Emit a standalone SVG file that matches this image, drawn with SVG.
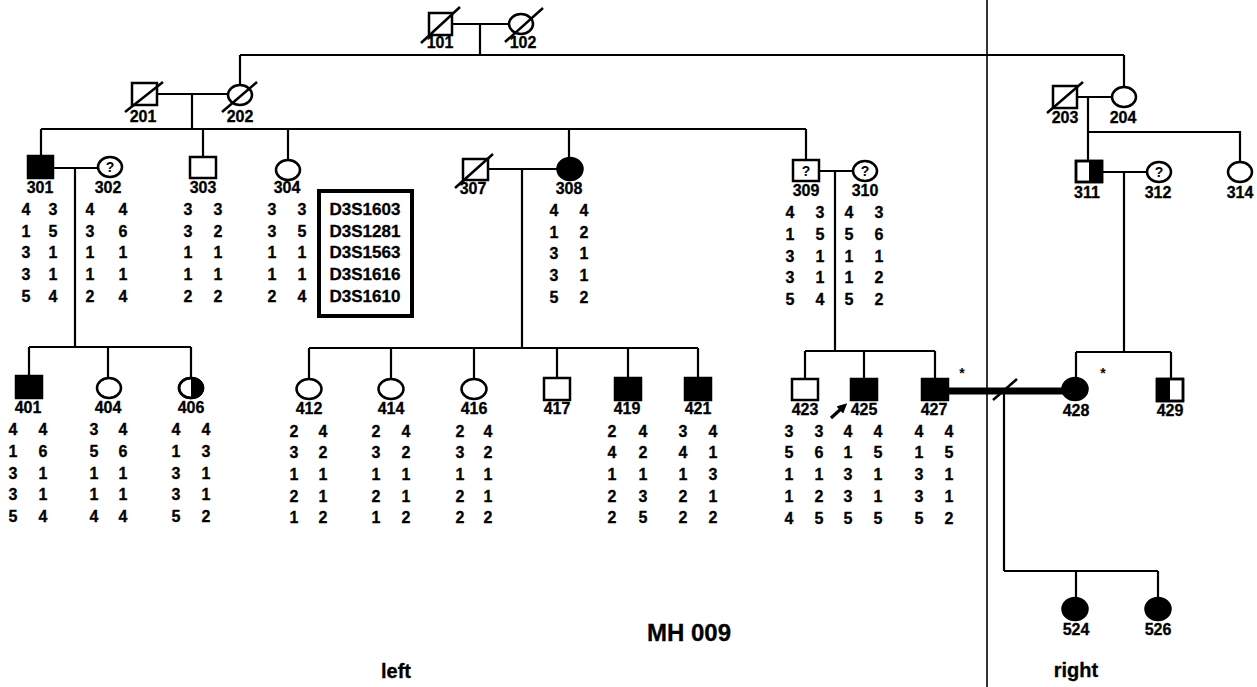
<svg xmlns="http://www.w3.org/2000/svg" width="1257" height="687" viewBox="0 0 1257 687">
<style>
.ln{stroke:#000;stroke-width:2.2;fill:none}
.sym{stroke:#000;stroke-width:2.5;fill:#fff}
.aff{stroke:#000;stroke-width:2.5;fill:#000}
.dx{stroke:#000;stroke-width:2.5}
text{font-family:"Liberation Sans",Arial,sans-serif;font-weight:bold;fill:#000;stroke:#000;stroke-width:0.3}
.lb{font-size:16px;text-anchor:middle}
.al{font-size:16px;text-anchor:middle}
.q{font-size:14px;text-anchor:middle;stroke-width:0}
</style>
<defs>
<marker id="ah" markerWidth="10" markerHeight="10" refX="3" refY="5" orient="auto" markerUnits="userSpaceOnUse" viewBox="0 0 10 10"><path d="M0,0 L10,5 L0,10 Z" fill="#000"/></marker>
</defs>
<rect width="1257" height="687" fill="#fff"/>

<g id="connectors">
<path class="ln" d="M452,24 H509 M480,24 V55 M240,55 H1124 M240,55 V85 M1124,55 V87"/>
<path class="ln" d="M157,94 H228 M192,94 V129 M41,129 H806 M41,129 V156 M203,129 V157 M288,129 V160 M569,129 V158 M806,129 V160"/>
<path class="ln" d="M53,168 H98 M75,168 V347 M29,347 H191 M29,347 V376 M108,347 V378 M191,347 V378"/>
<path class="ln" d="M488,169 H558 M522,169 V348 M309,348 H698 M309,348 V379 M391,348 V379 M474,348 V379 M557,348 V378 M628,348 V378 M698,348 V378"/>
<path class="ln" d="M818,171 H853 M835,171 V351 M805,351 H935 M805,351 V379 M864,351 V379 M935,351 V379"/>
<path class="ln" d="M1077,97 H1112 M1088,97 V161 M1088,132 H1240 V162 M1102,172 H1147 M1124,172 V352 M1076,352 H1171 M1076,352 V378 M1171,352 V379"/>
<path d="M948,391 H1063" stroke="#000" stroke-width="7" fill="none"/>
<path class="dx" d="M993,400 L1017,379"/>
<path class="ln" d="M1004,391 V571 M1004,571 H1158 M1076,571 V598 M1158,571 V598"/>
<path d="M831,418 L842,408" stroke="#000" stroke-width="3.2" fill="none" marker-end="url(#ah)"/>
<path d="M987,0 V687" stroke="#000" stroke-width="1.6"/>
</g>

<g id="n101"><rect class="sym" x="429" y="13" width="23" height="22"/><path class="dx" d="M421,43 L460,7"/><text class="lb" x="440" y="48">101</text></g>
<g id="n102"><ellipse class="sym" cx="521" cy="24" rx="12" ry="10"/><path class="dx" d="M505,42 L543,8"/><text class="lb" x="523" y="48">102</text></g>

<g id="n201"><rect class="sym" x="132" y="83" width="25" height="22"/><path class="dx" d="M125,112 L163,82"/><text class="lb" x="143" y="122">201</text></g>
<g id="n202"><ellipse class="sym" cx="240" cy="95" rx="12" ry="10"/><path class="dx" d="M222,112 L257,82"/><text class="lb" x="240" y="122">202</text></g>
<g id="n203"><rect class="sym" x="1053" y="86" width="24" height="22"/><path class="dx" d="M1047,113 L1083,82"/><text class="lb" x="1065" y="123">203</text></g>
<g id="n204"><ellipse class="sym" cx="1124" cy="97" rx="12" ry="10"/><text class="lb" x="1123" y="123">204</text></g>

<g id="n301"><rect class="aff" x="28" y="156" width="25" height="22"/><text class="lb" x="40" y="193">301</text>
<text class="al"><tspan x="26" y="215">4</tspan><tspan x="26" y="237">1</tspan><tspan x="26" y="258">3</tspan><tspan x="26" y="280">3</tspan><tspan x="26" y="302">5</tspan></text>
<text class="al"><tspan x="53" y="215">3</tspan><tspan x="53" y="237">5</tspan><tspan x="53" y="258">1</tspan><tspan x="53" y="280">1</tspan><tspan x="53" y="302">4</tspan></text></g>
<g id="n302"><ellipse class="sym" cx="110" cy="167" rx="12" ry="10"/><text class="q" x="110" y="172">?</text><text class="lb" x="108" y="193">302</text>
<text class="al"><tspan x="90" y="215">4</tspan><tspan x="90" y="237">3</tspan><tspan x="90" y="258">1</tspan><tspan x="90" y="280">1</tspan><tspan x="90" y="302">2</tspan></text>
<text class="al"><tspan x="123" y="215">4</tspan><tspan x="123" y="237">6</tspan><tspan x="123" y="258">1</tspan><tspan x="123" y="280">1</tspan><tspan x="123" y="302">4</tspan></text></g>
<g id="n303"><rect class="sym" x="190" y="157" width="26" height="21"/><text class="lb" x="203" y="193">303</text>
<text class="al"><tspan x="188" y="215">3</tspan><tspan x="188" y="237">3</tspan><tspan x="188" y="258">1</tspan><tspan x="188" y="280">1</tspan><tspan x="188" y="302">2</tspan></text>
<text class="al"><tspan x="218" y="215">3</tspan><tspan x="218" y="237">2</tspan><tspan x="218" y="258">1</tspan><tspan x="218" y="280">1</tspan><tspan x="218" y="302">2</tspan></text></g>
<g id="n304"><ellipse class="sym" cx="288" cy="170" rx="12" ry="10"/><text class="lb" x="287" y="193">304</text>
<text class="al"><tspan x="272" y="215">3</tspan><tspan x="272" y="237">3</tspan><tspan x="272" y="258">1</tspan><tspan x="272" y="280">1</tspan><tspan x="272" y="302">2</tspan></text>
<text class="al"><tspan x="302" y="215">3</tspan><tspan x="302" y="237">5</tspan><tspan x="302" y="258">1</tspan><tspan x="302" y="280">1</tspan><tspan x="302" y="302">4</tspan></text></g>

<g id="legend"><rect x="319" y="191" width="93" height="125" fill="none" stroke="#000" stroke-width="4"/>
<text class="al" style="font-size:17px"><tspan x="365" y="215">D3S1603</tspan><tspan x="365" y="237">D3S1281</tspan><tspan x="365" y="258">D3S1563</tspan><tspan x="365" y="280">D3S1616</tspan><tspan x="365" y="302">D3S1610</tspan></text></g>

<g id="n307"><rect class="sym" x="463" y="159" width="25" height="21"/><path class="dx" d="M455,188 L493,154"/><text class="lb" x="473" y="194">307</text></g>
<g id="n308"><ellipse class="aff" cx="570" cy="169" rx="12.5" ry="11"/><text class="lb" x="569" y="194">308</text>
<text class="al"><tspan x="554" y="216">4</tspan><tspan x="554" y="238">1</tspan><tspan x="554" y="259">3</tspan><tspan x="554" y="281">3</tspan><tspan x="554" y="303">5</tspan></text>
<text class="al"><tspan x="584" y="216">4</tspan><tspan x="584" y="238">2</tspan><tspan x="584" y="259">1</tspan><tspan x="584" y="281">1</tspan><tspan x="584" y="303">2</tspan></text></g>

<g id="n309"><rect class="sym" x="793" y="160" width="26" height="21"/><text class="q" x="806" y="176">?</text><text class="lb" x="806" y="196">309</text>
<text class="al"><tspan x="790" y="218">4</tspan><tspan x="790" y="240">1</tspan><tspan x="790" y="262">3</tspan><tspan x="790" y="283">3</tspan><tspan x="790" y="305">5</tspan></text>
<text class="al"><tspan x="820" y="218">3</tspan><tspan x="820" y="240">5</tspan><tspan x="820" y="262">1</tspan><tspan x="820" y="283">1</tspan><tspan x="820" y="305">4</tspan></text></g>
<g id="n310"><ellipse class="sym" cx="865" cy="171" rx="12" ry="10"/><text class="q" x="865" y="176">?</text><text class="lb" x="865" y="196">310</text>
<text class="al"><tspan x="849" y="218">4</tspan><tspan x="849" y="240">5</tspan><tspan x="849" y="262">1</tspan><tspan x="849" y="283">1</tspan><tspan x="849" y="305">5</tspan></text>
<text class="al"><tspan x="879" y="218">3</tspan><tspan x="879" y="240">6</tspan><tspan x="879" y="262">1</tspan><tspan x="879" y="283">2</tspan><tspan x="879" y="305">2</tspan></text></g>

<g id="n311"><rect class="sym" x="1076" y="161" width="26" height="21"/><rect x="1089" y="161" width="13" height="21" fill="#000"/><rect x="1076" y="161" width="26" height="21" fill="none" stroke="#000" stroke-width="2.5"/><text class="lb" x="1087" y="198">311</text></g>
<g id="n312"><ellipse class="sym" cx="1159" cy="172" rx="12" ry="10"/><text class="q" x="1159" y="177">?</text><text class="lb" x="1158" y="198">312</text></g>
<g id="n314"><ellipse class="sym" cx="1240" cy="172" rx="12" ry="10"/><text class="lb" x="1240" y="198">314</text></g>

<g id="n401"><rect class="aff" x="16" y="376" width="26" height="22"/><text class="lb" x="28" y="413">401</text>
<text class="al"><tspan x="13" y="435">4</tspan><tspan x="13" y="457">1</tspan><tspan x="13" y="479">3</tspan><tspan x="13" y="500">3</tspan><tspan x="13" y="522">5</tspan></text>
<text class="al"><tspan x="43" y="435">4</tspan><tspan x="43" y="457">6</tspan><tspan x="43" y="479">1</tspan><tspan x="43" y="500">1</tspan><tspan x="43" y="522">4</tspan></text></g>
<g id="n404"><ellipse class="sym" cx="109" cy="388" rx="12" ry="10"/><text class="lb" x="108" y="413">404</text>
<text class="al"><tspan x="94" y="435">3</tspan><tspan x="94" y="457">5</tspan><tspan x="94" y="479">1</tspan><tspan x="94" y="500">1</tspan><tspan x="94" y="522">4</tspan></text>
<text class="al"><tspan x="123" y="435">4</tspan><tspan x="123" y="457">6</tspan><tspan x="123" y="479">1</tspan><tspan x="123" y="500">1</tspan><tspan x="123" y="522">4</tspan></text></g>
<g id="n406"><ellipse class="sym" cx="191" cy="388" rx="12" ry="10"/><path d="M191,378 A12,10 0 0,1 191,398 Z" fill="#000"/><ellipse cx="191" cy="388" rx="12" ry="10" fill="none" stroke="#000" stroke-width="2.5"/><text class="lb" x="191" y="413">406</text>
<text class="al"><tspan x="176" y="435">4</tspan><tspan x="176" y="457">1</tspan><tspan x="176" y="479">3</tspan><tspan x="176" y="500">3</tspan><tspan x="176" y="522">5</tspan></text>
<text class="al"><tspan x="206" y="435">4</tspan><tspan x="206" y="457">3</tspan><tspan x="206" y="479">1</tspan><tspan x="206" y="500">1</tspan><tspan x="206" y="522">2</tspan></text></g>

<g id="n412"><ellipse class="sym" cx="309" cy="389" rx="12.5" ry="10"/><text class="lb" x="309" y="414">412</text>
<text class="al"><tspan x="294" y="437">2</tspan><tspan x="294" y="458">3</tspan><tspan x="294" y="480">1</tspan><tspan x="294" y="502">2</tspan><tspan x="294" y="523">1</tspan></text>
<text class="al"><tspan x="323" y="437">4</tspan><tspan x="323" y="458">2</tspan><tspan x="323" y="480">1</tspan><tspan x="323" y="502">1</tspan><tspan x="323" y="523">2</tspan></text></g>
<g id="n414"><ellipse class="sym" cx="391" cy="389" rx="12.5" ry="10"/><text class="lb" x="391" y="414">414</text>
<text class="al"><tspan x="376" y="437">2</tspan><tspan x="376" y="458">3</tspan><tspan x="376" y="480">1</tspan><tspan x="376" y="502">2</tspan><tspan x="376" y="523">1</tspan></text>
<text class="al"><tspan x="406" y="437">4</tspan><tspan x="406" y="458">2</tspan><tspan x="406" y="480">1</tspan><tspan x="406" y="502">1</tspan><tspan x="406" y="523">2</tspan></text></g>
<g id="n416"><ellipse class="sym" cx="474" cy="389" rx="12.5" ry="10"/><text class="lb" x="474" y="414">416</text>
<text class="al"><tspan x="460" y="437">2</tspan><tspan x="460" y="458">3</tspan><tspan x="460" y="480">1</tspan><tspan x="460" y="502">2</tspan><tspan x="460" y="523">2</tspan></text>
<text class="al"><tspan x="488" y="437">4</tspan><tspan x="488" y="458">2</tspan><tspan x="488" y="480">1</tspan><tspan x="488" y="502">1</tspan><tspan x="488" y="523">2</tspan></text></g>
<g id="n417"><rect class="sym" x="544" y="378" width="26" height="22"/><text class="lb" x="557" y="414">417</text></g>
<g id="n419"><rect class="aff" x="615" y="378" width="26" height="22"/><text class="lb" x="627" y="414">419</text>
<text class="al"><tspan x="612" y="437">2</tspan><tspan x="612" y="458">4</tspan><tspan x="612" y="480">1</tspan><tspan x="612" y="502">2</tspan><tspan x="612" y="523">2</tspan></text>
<text class="al"><tspan x="643" y="437">4</tspan><tspan x="643" y="458">2</tspan><tspan x="643" y="480">1</tspan><tspan x="643" y="502">3</tspan><tspan x="643" y="523">5</tspan></text></g>
<g id="n421"><rect class="aff" x="685" y="378" width="26" height="22"/><text class="lb" x="698" y="414">421</text>
<text class="al"><tspan x="683" y="437">3</tspan><tspan x="683" y="458">4</tspan><tspan x="683" y="480">1</tspan><tspan x="683" y="502">2</tspan><tspan x="683" y="523">2</tspan></text>
<text class="al"><tspan x="713" y="437">4</tspan><tspan x="713" y="458">1</tspan><tspan x="713" y="480">3</tspan><tspan x="713" y="502">1</tspan><tspan x="713" y="523">2</tspan></text></g>

<g id="n423"><rect class="sym" x="792" y="379" width="26" height="21"/><text class="lb" x="805" y="415">423</text>
<text class="al"><tspan x="789" y="437">3</tspan><tspan x="789" y="458">5</tspan><tspan x="789" y="480">1</tspan><tspan x="789" y="502">1</tspan><tspan x="789" y="524">4</tspan></text>
<text class="al"><tspan x="819" y="437">3</tspan><tspan x="819" y="458">6</tspan><tspan x="819" y="480">1</tspan><tspan x="819" y="502">2</tspan><tspan x="819" y="524">5</tspan></text></g>
<g id="n425"><rect class="aff" x="851" y="379" width="26" height="21"/><text class="lb" x="864" y="415">425</text>
<text class="al"><tspan x="848" y="437">4</tspan><tspan x="848" y="458">1</tspan><tspan x="848" y="480">3</tspan><tspan x="848" y="502">3</tspan><tspan x="848" y="524">5</tspan></text>
<text class="al"><tspan x="878" y="437">4</tspan><tspan x="878" y="458">5</tspan><tspan x="878" y="480">1</tspan><tspan x="878" y="502">1</tspan><tspan x="878" y="524">5</tspan></text></g>
<g id="n427"><rect class="aff" x="922" y="379" width="26" height="21"/><text class="lb" x="934" y="415">427</text><text class="q" x="962" y="378">*</text>
<text class="al"><tspan x="919" y="437">4</tspan><tspan x="919" y="458">1</tspan><tspan x="919" y="480">3</tspan><tspan x="919" y="502">3</tspan><tspan x="919" y="524">5</tspan></text>
<text class="al"><tspan x="949" y="437">4</tspan><tspan x="949" y="458">5</tspan><tspan x="949" y="480">1</tspan><tspan x="949" y="502">1</tspan><tspan x="949" y="524">2</tspan></text></g>

<g id="n428"><ellipse class="aff" cx="1075" cy="389" rx="12.5" ry="11"/><text class="lb" x="1076" y="416">428</text><text class="q" x="1103" y="378">*</text></g>
<g id="n429"><rect class="sym" x="1157" y="379" width="26" height="22"/><rect x="1157" y="379" width="13" height="22" fill="#000"/><rect x="1157" y="379" width="26" height="22" fill="none" stroke="#000" stroke-width="2.5"/><text class="lb" x="1170" y="416">429</text></g>

<g id="n524"><ellipse class="aff" cx="1075" cy="609" rx="12.5" ry="11"/><text class="lb" x="1076" y="635">524</text></g>
<g id="n526"><ellipse class="aff" cx="1158" cy="609" rx="12.5" ry="11"/><text class="lb" x="1158" y="635">526</text></g>

<g id="titles">
<text x="689" y="641" style="font-size:24px;text-anchor:middle">MH 009</text>
<text x="396" y="678" style="font-size:20px;text-anchor:middle">left</text>
<text x="1076" y="677" style="font-size:20px;text-anchor:middle">right</text>
</g>
</svg>
